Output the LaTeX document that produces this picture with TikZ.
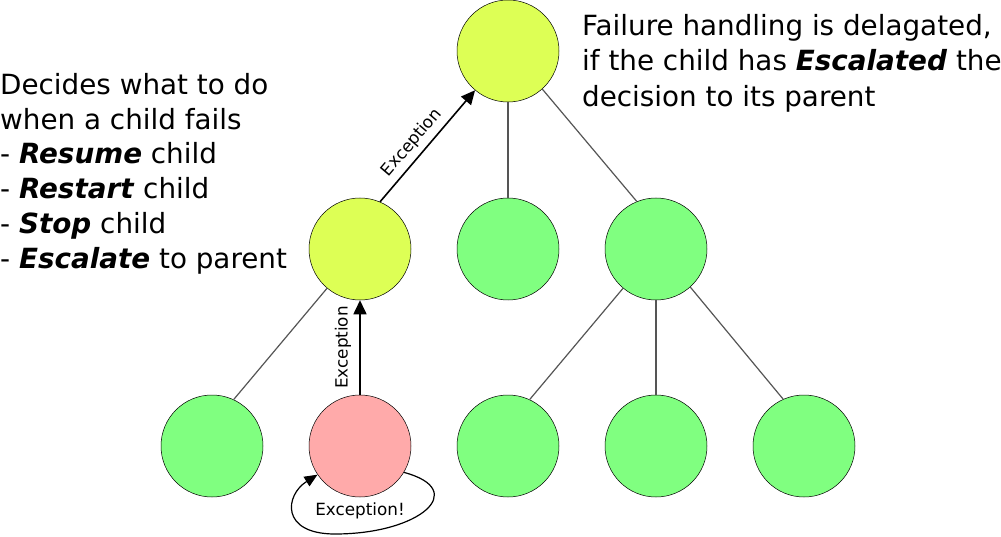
\documentclass[tikz,border=0pt]{standalone}
\usepackage{fontspec}
\setmainfont{DejaVu Sans}
\usetikzlibrary{arrows.meta}
\definecolor{supyellow}{RGB}{221,255,85}
\definecolor{kidgreen}{RGB}{128,255,128}
\definecolor{failpink}{RGB}{255,170,170}
\definecolor{edgegray}{RGB}{85,85,85}
\tikzset{
  actor/.style={circle, draw=black, line width=0.5pt, minimum size=102pt, inner sep=0pt},
  sup/.style={actor, fill=supyellow},
  kid/.style={actor, fill=kidgreen},
  failed/.style={actor, fill=failpink},
  tree/.style={draw=edgegray, line width=1.2pt},
  esc/.style={draw=black, line width=1.6pt, -{Triangle[length=14pt,width=13pt]}},
  lbl/.style={font=\fontsize{16.8}{19}\selectfont, inner sep=2pt},
  big/.style={font=\fontsize{27.8}{34.8}\selectfont, align=left, inner sep=0pt, anchor=north west}
}
\begin{document}
\begin{tikzpicture}[x=1pt,y=-1pt]
\useasboundingbox (0,0) rectangle (1001,537);
\node[sup] (root) at (508,51) {};
\node[sup] (m1) at (360,249) {};
\node[kid] (m2) at (508,249) {};
\node[kid] (m3) at (656,249) {};
\node[kid] (b1) at (212,446) {};
\node[failed] (b2) at (360,446) {};
\node[kid] (b3) at (508,446) {};
\node[kid] (b4) at (656,446) {};
\node[kid] (b5) at (804,446) {};
\coordinate (loopbot) at (335,534);
\draw[tree] (root) -- (m2);
\draw[tree] (root.-48) -- (m3.112);
\draw[tree] (m1.230) -- (b1.65);
\draw[tree] (m3.230) -- (b3.65);
\draw[tree] (m3) -- (b4);
\draw[tree] (m3.-48) -- (b5.114);
\draw[esc] (m1.67) -- node[lbl, pos=0.45, above=3pt, sloped] {Exception} (root.230);
\draw[esc] (b2) -- node[lbl, midway, above=6pt, sloped] {Exception} (m1);
\draw[draw=black, line width=1.2pt, -{Triangle[length=13pt,width=11pt]}] (b2.-31) .. controls (470,490) and (420,534) .. (loopbot) .. controls (280,534) and (285,495) .. (b2.214);
\node[lbl] (loopl) at (360,511) {Exception!};
\node[big] (ltext) at (0,73) {Decides what to do\\when a child fails\\- \textbf{\textit{Resume}} child\\- \textbf{\textit{Restart}} child\\- \textbf{\textit{Stop}} child\\- \textbf{\textit{Escalate}} to parent};
\node[big, font=\fontsize{27.8}{35.5}\selectfont] (rtext) at (582,14) {Failure handling is delagated,\\if the child has \textbf{\textit{Escalated}} the\\decision to its parent};
\end{tikzpicture}
\end{document}
